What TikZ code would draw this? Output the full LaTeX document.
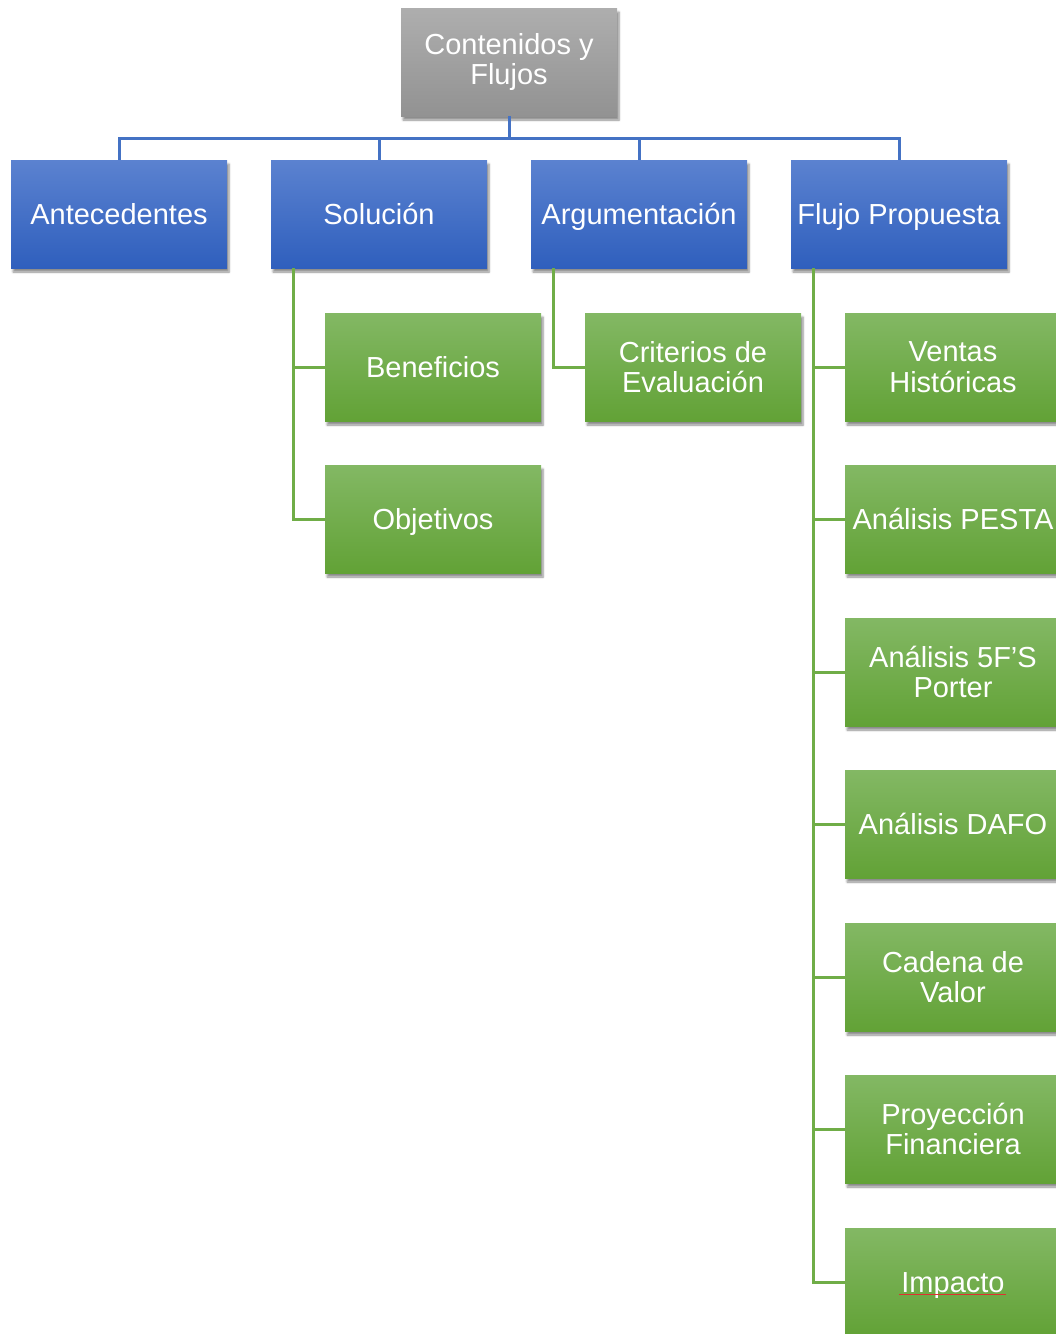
\documentclass[tikz,border=0pt]{standalone}
\usepackage{fontspec}
\setmainfont{Liberation Sans}
\usetikzlibrary{shadows.blur}
\definecolor{bluetop}{HTML}{5B82D0}
\definecolor{bluebot}{HTML}{2F5FBD}
\definecolor{greentop}{HTML}{83B864}
\definecolor{greenbot}{HTML}{62A236}
\definecolor{graytop}{HTML}{AEAEAE}
\definecolor{graybot}{HTML}{929292}
\definecolor{blueline}{HTML}{4472C4}
\definecolor{greenline}{HTML}{70AD47}
\definecolor{spellred}{HTML}{E03030}
\tikzset{
  box/.style={minimum width=216pt, minimum height=108pt, inner sep=0pt, align=center,
    text=white, font=\fontsize{29}{30.5}\selectfont, shading=axis,
    blur shadow={shadow xshift=2pt, shadow yshift=-4pt, shadow blur steps=6, shadow opacity=45}},
  oneline/.style={text height=21pt, text depth=0pt},
  graybox/.style={box, top color=graytop, bottom color=graybot},
  bluebox/.style={box, oneline, top color=bluetop, bottom color=bluebot},
  greenbox/.style={box, top color=greentop, bottom color=greenbot},
  bline/.style={draw=blueline, line width=3pt},
  gline/.style={draw=greenline, line width=3pt},
}
\begin{document}
\begin{tikzpicture}[x=1pt,y=-1pt]
\useasboundingbox (0,0) rectangle (1056,1334);
\clip (0,0) rectangle (1056,1334);
\node[graybox] (top) at (509,62) {Contenidos y\\Flujos};
\node[bluebox] (ant) at (119,214) {Antecedentes};
\node[bluebox] (sol) at (379,214) {Solución};
\node[bluebox] (arg) at (639,214) {Argumentación};
\node[bluebox] (flu) at (899,214) {Flujo Propuesta};
\node[greenbox, oneline] (ben) at (433,367) {Beneficios};
\node[greenbox, oneline] (obj) at (433,519) {Objetivos};
\node[greenbox] (cri) at (693,367) {Criterios de\\Evaluación};
\node[greenbox] (ven) at (953,367) {Ventas\\Históricas};
\node[greenbox, oneline] (pes) at (953,519) {Análisis PESTA};
\node[greenbox] (por) at (953,672) {Análisis 5F’S\\Porter};
\node[greenbox, oneline] (daf) at (953,824) {Análisis DAFO};
\node[greenbox] (cad) at (953,977) {Cadena de\\Valor};
\node[greenbox] (pro) at (953,1129) {Proyección\\Financiera};
\node[greenbox, oneline] (imp) at (953,1282) {Impacto};
\coordinate (bus) at (509,138);
\foreach \n in {ant,sol,arg,flu}{
  \draw[bline] (top.south) -- (bus) -| (\n.north);
}
\foreach \p/\c in {sol/ben,sol/obj,arg/cri,flu/ven,flu/pes,flu/por,flu/daf,flu/cad,flu/pro,flu/imp}{
  \draw[gline] ([xshift=-86pt]\p.south) |- (\c.west);
}
\draw[spellred, line width=0.9pt] ([xshift=-54pt,yshift=-12pt]imp.center) -- ([xshift=53pt,yshift=-12pt]imp.center);
\end{tikzpicture}
\end{document}
